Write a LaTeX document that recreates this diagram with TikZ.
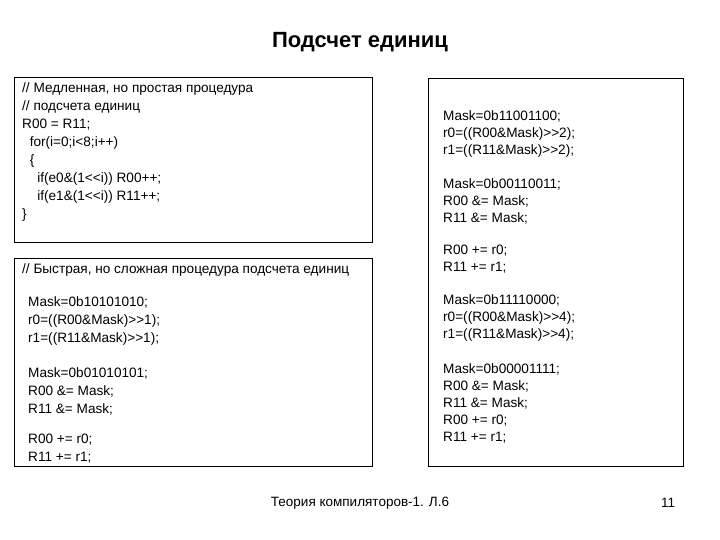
\documentclass[tikz,border=0pt]{standalone}
\usepackage{fontspec}
\setmainfont{Liberation Sans}
\begin{document}
\begin{tikzpicture}[x=1pt,y=-1pt,
  box/.style={draw=black,line width=0.8pt},
  code/.style={anchor=west,inner sep=0pt,align=left,font=\fontsize{13.6}{18}\selectfont},
  coder/.style={anchor=west,inner sep=0pt,align=left,font=\fontsize{13.6}{17}\selectfont}]
\useasboundingbox (0,0) rectangle (720,540);
\node[font=\fontsize{22}{24}\bfseries\selectfont] (title) at (360,42) {Подсчет единиц};
\draw[box] (14,77) rectangle (372,242);
\draw[box] (14,258) rectangle (372,466);
\draw[box] (428,78) rectangle (683,466);
\node[code] (a) at (22,151.5) {// Медленная, но простая процедура\\// подсчета единиц\\R00 = R11;\\\ \ for(i=0;i<8;i++)\\\ \ \{\\\ \ \ \ if(e0\&(1<{}<i)) R00++;\\\ \ \ \ if(e1\&(1<{}<i)) R11++;\\\}};
\node[code] (b0) at (22,270) {// Быстрая, но сложная процедура подсчета единиц};
\node[code] (b1) at (28,321) {Mask=0b10101010;\\r0=((R00\&Mask)>{}>1);\\r1=((R11\&Mask)>{}>1);};
\node[code] (b2) at (28,391) {Mask=0b01010101;\\R00 \&= Mask;\\R11 \&= Mask;};
\node[code] (b3) at (28,449) {R00 += r0;\\R11 += r1;};
\node[coder] (c1) at (443,134) {Mask=0b11001100;\\r0=((R00\&Mask)>{}>2);\\r1=((R11\&Mask)>{}>2);};
\node[coder] (c2) at (443,201) {Mask=0b00110011;\\R00 \&= Mask;\\R11 \&= Mask;};
\node[coder] (c3) at (443,259.5) {R00 += r0;\\R11 += r1;};
\node[coder] (c4) at (443,318) {Mask=0b11110000;\\r0=((R00\&Mask)>{}>4);\\r1=((R11\&Mask)>{}>4);};
\node[coder] (c5) at (443,403) {Mask=0b00001111;\\R00 \&= Mask;\\R11 \&= Mask;\\R00 += r0;\\R11 += r1;};
\node[font=\fontsize{13.5}{15}\selectfont] (f) at (360,503) {Теория компиляторов-1. Л.6};
\node[font=\fontsize{13.5}{15}\selectfont] (p) at (668,503) {11};
\end{tikzpicture}
\end{document}
